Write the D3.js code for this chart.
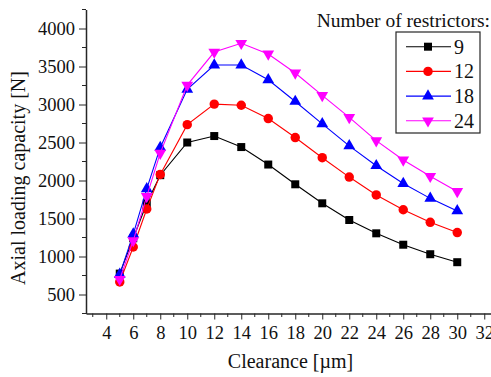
<!DOCTYPE html>
<html>
<head>
<meta charset="utf-8">
<script src="https://cdn.jsdelivr.net/npm/d3@7"></script>
<style>
  body { margin: 0; background: #fff; }
  svg { display: block; }
</style>
</head>
<body>
<svg id="chart" width="491" height="377"></svg>
<script>
const clearance = [5, 6, 7, 8, 10, 12, 14, 16, 18, 20, 22, 24, 26, 28, 30];
const restrictors9 = [775, 1240, 1700, 2070, 2500, 2585, 2440, 2210, 1950, 1700, 1480, 1305, 1155, 1030, 925];
const restrictors12 = [665, 1125, 1625, 2080, 2735, 3005, 2990, 2815, 2565, 2300, 2045, 1810, 1615, 1450, 1315];
const restrictors18 = [765, 1295, 1890, 2435, 3200, 3520, 3520, 3325, 3040, 2745, 2455, 2195, 1960, 1765, 1600];
const restrictors24 = [700, 1210, 1790, 2360, 3255, 3690, 3805, 3665, 3415, 3120, 2830, 2525, 2270, 2055, 1855];
const seriesNames = ["9", "12", "18", "24"];
const xTicks = [4, 6, 8, 10, 12, 14, 16, 18, 20, 22, 24, 26, 28, 30, 32];
const yTicks = [500, 1000, 1500, 2000, 2500, 3000, 3500, 4000];

const width = 491, height = 377;
const margin = { top: 9.5, right: 0, bottom: 63.5, left: 86 };
const serif = "Liberation Serif";

const svg = d3.select("#chart");

const x = d3.scaleLinear().domain([2.5, 32.5]).range([margin.left, width - margin.right]);
const y = d3.scaleLinear().domain([250, 4250]).range([height - margin.bottom, margin.top]);

const series = [
  { name: seriesNames[0], values: restrictors9, color: "#000000", symbol: d3.symbolSquare, size: 64, rot: 0 },
  { name: seriesNames[1], values: restrictors12, color: "#ff0000", symbol: d3.symbolCircle, size: 70, rot: 0 },
  { name: seriesNames[2], values: restrictors18, color: "#0000ff", symbol: d3.symbolTriangle, size: 60, rot: 0 },
  { name: seriesNames[3], values: restrictors24, color: "#ff00ff", symbol: d3.symbolTriangle, size: 60, rot: 180 }
];

// minor ticks
const xMinor = d3.range(3, 33, 2);
const yMinor = d3.range(250, 4251, 500);

const axisColor = "#262626";

// x axis
const gx = svg.append("g").attr("transform", `translate(0,${height - margin.bottom})`);
gx.call(d3.axisBottom(x).tickValues(xTicks).tickSize(6).tickSizeOuter(0).tickFormat(d3.format("d")));
gx.append("g").selectAll("line").data(xMinor).enter().append("line")
  .attr("x1", d => x(d)).attr("x2", d => x(d)).attr("y1", 0).attr("y2", 3.5)
  .attr("stroke", axisColor);

// y axis
const gy = svg.append("g").attr("transform", `translate(${margin.left},0)`);
gy.call(d3.axisLeft(y).tickValues(yTicks).tickSize(7).tickSizeOuter(0).tickFormat(d3.format("d")));
gy.append("g").selectAll("line").data(yMinor).enter().append("line")
  .attr("y1", d => y(d)).attr("y2", d => y(d)).attr("x1", 0).attr("x2", -4)
  .attr("stroke", axisColor);

[gx, gy].forEach(g => {
  g.select(".domain").attr("stroke", axisColor).attr("stroke-width", 1.5);
  g.selectAll(".tick line").attr("stroke", axisColor);
  g.selectAll(".tick text").attr("fill", "#111")
    .style("font-family", serif).style("font-size", "18.5px");
});
gx.selectAll(".tick text").attr("dy", "0.95em").attr("y", 8);
gy.selectAll(".tick text").attr("x", -11).attr("dy", "0.34em");

// axis titles
svg.append("text")
  .attr("x", (margin.left + width) / 2 + 2).attr("y", 368)
  .attr("text-anchor", "middle").attr("fill", "#111")
  .style("font-family", serif).style("font-size", "20px")
  .text("Clearance [µm]");

svg.append("text")
  .attr("transform", "translate(25,178) rotate(-90)")
  .attr("text-anchor", "middle").attr("fill", "#111")
  .style("font-family", serif).style("font-size", "20px")
  .text("Axial loading capacity [N]");

// lines and markers
const line = d3.line().x((d, i) => x(clearance[i])).y(d => y(d));

series.forEach(s => {
  svg.append("path")
    .datum(s.values)
    .attr("d", line)
    .attr("fill", "none")
    .attr("stroke", s.color)
    .attr("stroke-width", 1.1);
  svg.append("g").selectAll("path").data(s.values).enter().append("path")
    .attr("d", d3.symbol().type(s.symbol).size(s.size))
    .attr("transform", (d, i) => `translate(${x(clearance[i])},${y(d)}) rotate(${s.rot})`)
    .attr("fill", s.color);
});

// legend
svg.append("text")
  .attr("x", 490).attr("y", 27)
  .attr("text-anchor", "end").attr("fill", "#111")
  .style("font-family", serif).style("font-size", "19.5px")
  .text("Number of restrictors:");

const legend = svg.append("g");
legend.append("rect")
  .attr("x", 396).attr("y", 32).attr("width", 84).attr("height", 101)
  .attr("fill", "#fff").attr("stroke", axisColor).attr("stroke-width", 1.2);

series.forEach((s, i) => {
  const ly = 46.7 + i * 24.7;
  legend.append("line")
    .attr("x1", 406).attr("x2", 451).attr("y1", ly).attr("y2", ly)
    .attr("stroke", s.color).attr("stroke-width", 1.1);
  legend.append("path")
    .attr("d", d3.symbol().type(s.symbol).size(s.size))
    .attr("transform", `translate(428,${ly}) rotate(${s.rot})`)
    .attr("fill", s.color);
  legend.append("text")
    .attr("x", 454).attr("y", ly + 7)
    .attr("fill", "#111")
    .style("font-family", serif).style("font-size", "20px")
    .text(s.name);
});
</script>
</body>
</html>
